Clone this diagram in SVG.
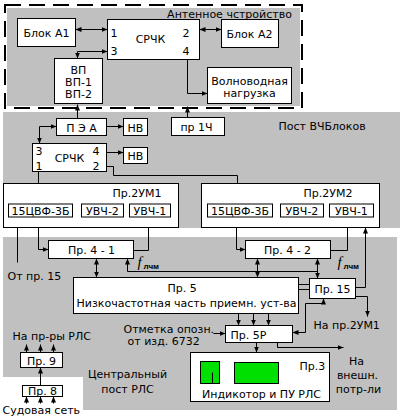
<svg xmlns="http://www.w3.org/2000/svg" width="404" height="417" viewBox="0 0 404 417">
<defs>
<marker id="a" markerWidth="6" markerHeight="5" refX="6" refY="2.5" orient="auto-start-reverse" markerUnits="userSpaceOnUse"><path d="M0,0 L6,2.5 L0,5 z" fill="#000"/></marker>
<style>
.t{font-family:"DejaVu Sans","Liberation Sans",sans-serif;font-size:11px;fill:#000}
.m{text-anchor:middle}
.b{fill:#fff;stroke:#000;stroke-width:1}
.c{fill:none;stroke:#000;stroke-width:1}
.e{marker-end:url(#a)}
.d{marker-start:url(#a);marker-end:url(#a)}
.g{fill:#c0c0c0}
.gr{fill:#00e000;stroke:#000;stroke-width:1}
</style>
</defs>
<rect width="404" height="417" fill="#fff"/>
<g id="backgrounds">
<rect class="g" x="7" y="8" width="293" height="98"/>
<rect x="5" y="5" width="297" height="103" fill="none" stroke="#000" stroke-width="2" stroke-dasharray="16,8"/>
<rect class="g" x="3" y="112" width="397" height="116"/>
<rect class="g" x="3" y="237" width="394" height="173"/>
<rect x="0" y="377" width="83" height="40" fill="#fff"/>
</g>
<g transform="translate(0.5 0.5)">
<g id="connectors">
<path class="c d" d="M75,29 H107"/>
<path class="c d" d="M199,29 H221"/>
<path class="c d" d="M77,58 V51 H107"/>
<path class="c e" d="M187,59 V93 H207"/>
<path class="c e" d="M77,118 V104"/>
<path class="c e" d="M187,117 V106"/>
<path class="c e" d="M106,126 H123"/>
<path class="c e" d="M106,152 H123"/>
<path class="c d" d="M39,143 V126 H56"/>
<path class="c" d="M106,166 H113 V175 H237 V183"/>
<path class="c" d="M38,171 V183"/>
<path class="c e" d="M81,210 H72"/>
<path class="c e" d="M129,210 H123"/>
<path class="c e" d="M280,210 H272"/>
<path class="c e" d="M329,210 H323"/>
<path class="c e" d="M38,217 V249 H48"/>
<path class="c e" d="M17,262 V217"/>
<path class="c e" d="M133,250 H148 V217"/>
<path class="c d" d="M96,258 V277"/>
<path class="c e" d="M317,271 H127 V258"/>
<path class="c e" d="M236,217 V249 H245"/>
<path class="c e" d="M330,250 H347 V217"/>
<path class="c d" d="M257,258 V277"/>
<path class="c d" d="M317,258 V278"/>
<path class="c e" d="M355,287 H365 V227"/>
<path class="c" d="M298,284 H309 M298,289 H309"/>
<path class="c e" d="M355,296 H367 V316"/>
<path class="c e" d="M238,313 V325"/>
<path class="c e" d="M253,313 V325"/>
<path class="c e" d="M268,313 V325"/>
<path class="c e" d="M213,333 H225"/>
<path class="c d" d="M323,298 V303 H305 V332 H292"/>
<path class="c e" d="M256,342 V352"/>
<path class="c e" d="M277,342 V347 H343"/>
<path class="c e" d="M26,352 V344"/>
<path class="c e" d="M40,352 V344"/>
<path class="c e" d="M53,352 V344"/>
<path class="c e" d="M40,385 V367"/>
<path class="c e" d="M26,403 V396"/>
<path class="c e" d="M40,403 V396"/>
<path class="c e" d="M53,403 V396"/>
</g>
<g id="antenna-label"><text class="t m" x="229" y="17">Антенное чстройство</text></g>
<g id="blockA1"><rect class="b" x="17" y="18" width="58" height="28"/><text class="t m" x="46" y="36">Блок А1</text></g>
<g id="srchk-top"><rect class="b" x="107" y="19" width="92" height="40"/><text class="t m" x="150" y="42">СРЧК</text><text class="t" x="110" y="36">1</text><text class="t" x="110" y="54">3</text><text class="t" x="182" y="36">2</text><text class="t" x="182" y="54">4</text></g>
<g id="blockA2"><rect class="b" x="221" y="19" width="57" height="28"/><text class="t m" x="249" y="37">Блок А2</text></g>
<g id="vp"><rect class="b" x="54" y="58" width="48" height="45"/><text class="t m" x="78" y="73">ВП</text><text class="t m" x="78" y="85">ВП-1</text><text class="t m" x="78" y="97">ВП-2</text></g>
<g id="load"><rect class="b" x="207" y="67" width="84" height="36"/><text class="t m" x="249" y="84">Волноводная</text><text class="t m" x="249" y="96">нагрузка</text></g>
<g id="post-label"><text class="t" x="278" y="129">Пост ВЧБлоков</text></g>
<g id="pea"><rect class="b" x="56" y="118" width="50" height="17"/><text class="t m" x="81" y="131">П Э А</text></g>
<g id="nv1"><rect class="b" x="123" y="118" width="24" height="17"/><text class="t m" x="135" y="131">НВ</text></g>
<g id="pr1ch"><rect class="b" x="171" y="117" width="53" height="18"/><text class="t m" x="196" y="130">пр 1Ч</text></g>
<g id="srchk-mid"><rect class="b" x="32" y="143" width="74" height="28"/><text class="t m" x="69" y="161">СРЧК</text><text class="t" x="35" y="154">3</text><text class="t" x="35" y="169">1</text><text class="t" x="92" y="154">4</text><text class="t" x="92" y="169">2</text></g>
<g id="nv2"><rect class="b" x="123" y="147" width="24" height="16"/><text class="t m" x="135" y="159">НВ</text></g>
<g id="pr2um1"><rect class="b" x="3" y="183" width="175" height="44"/><text class="t" x="112" y="196">Пр.2УМ1</text>
<rect class="b" x="8" y="203.5" width="64" height="13"/><text class="t m" x="40" y="214">15ЦВФ-3Б</text>
<rect class="b" x="81" y="203.5" width="42" height="13"/><text class="t m" x="102" y="214">УВЧ-2</text>
<rect class="b" x="129" y="203.5" width="41" height="13"/><text class="t m" x="149.5" y="214">УВЧ-1</text></g>
<g id="pr2um2"><rect class="b" x="201" y="183" width="178" height="44"/><text class="t" x="303" y="196">Пр.2УМ2</text>
<rect class="b" x="207" y="203.5" width="65" height="13"/><text class="t m" x="239.5" y="214">15ЦВФ-3Б</text>
<rect class="b" x="280" y="203.5" width="43" height="13"/><text class="t m" x="301.5" y="214">УВЧ-2</text>
<rect class="b" x="329" y="203.5" width="44" height="13"/><text class="t m" x="351" y="214">УВЧ-1</text></g>
<g id="from-pr15"><text class="t" x="7" y="279">От пр. 15</text></g>
<g id="pr4-1"><rect class="b" x="48" y="240" width="85" height="18"/><text class="t m" x="91" y="253">Пр. 4 - 1</text></g>
<g id="flchm1"><text font-family="Liberation Serif,serif" font-style="italic" font-size="15" x="137" y="266">f</text><text font-family="Liberation Sans,sans-serif" font-weight="bold" font-size="8" x="143" y="268">лчм</text></g>
<g id="pr4-2"><rect class="b" x="245" y="240" width="85" height="18"/><text class="t m" x="287" y="253">Пр. 4 - 2</text></g>
<g id="flchm2"><text font-family="Liberation Serif,serif" font-style="italic" font-size="15" x="337" y="266">f</text><text font-family="Liberation Sans,sans-serif" font-weight="bold" font-size="8" x="343" y="268">лчм</text></g>
<g id="pr5"><rect class="b" x="73" y="277" width="225" height="36"/><text class="t" x="167" y="291">Пр. 5</text><text class="t m" x="186" y="306" textLength="220" lengthAdjust="spacingAndGlyphs">Низкочастотная часть приемн. уст-ва</text></g>
<g id="pr15"><rect class="b" x="309" y="278" width="46" height="20"/><text class="t m" x="332" y="292">Пр. 15</text></g>
<g id="to-2um1"><text class="t" x="313" y="328">На пр.2УМ1</text></g>
<g id="otmetka"><text class="t" x="123" y="332">Отметка опозн.</text><text class="t" x="127" y="344">от изд. 6732</text></g>
<g id="pr5r"><rect class="b" x="225" y="325" width="67" height="17"/><text class="t" x="230" y="338">Пр. 5Р</text></g>
<g id="ext"><text class="t m" x="356" y="364">На</text><text class="t m" x="357" y="378">внешн.</text><text class="t m" x="358" y="392">потр-ли</text></g>
<g id="pr3"><rect class="b" x="190" y="352" width="139" height="49"/><rect class="gr" x="200" y="361" width="19" height="22"/><path class="c" d="M212,372 V383"/><rect class="gr" x="234" y="362" width="44" height="21"/><text class="t" x="299" y="369">Пр.3</text><text class="t m" x="261" y="397">Индикотор и ПУ РЛС</text></g>
<g id="to-rls"><text class="t" x="12" y="339">На пр-ры РЛС</text></g>
<g id="pr9"><rect class="b" x="20" y="352" width="42" height="15"/><text class="t m" x="41" y="364">Пр. 9</text></g>
<g id="pr8"><rect class="b" x="22" y="385" width="40" height="11"/><text class="t m" x="42" y="394.5" font-size="10">Пр. 8</text></g>
<g id="ship"><text class="t" x="2" y="413">Судовая сеть</text></g>
<g id="central"><text class="t m" x="127" y="377">Центральный</text><text class="t m" x="127" y="392">пост РЛС</text></g>
</g>
</svg>
